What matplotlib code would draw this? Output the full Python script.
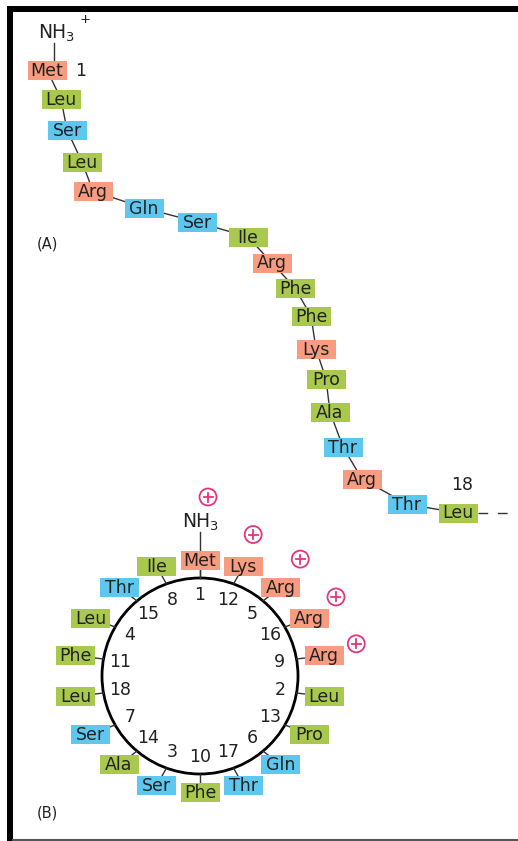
import numpy as np
import matplotlib.pyplot as plt
from matplotlib.patches import Rectangle, Circle

# residues of the signal sequence (N -> C)
residues = ['Met', 'Leu', 'Ser', 'Leu', 'Arg', 'Gln', 'Ser', 'Ile', 'Arg',
            'Phe', 'Phe', 'Lys', 'Pro', 'Ala', 'Thr', 'Arg', 'Thr', 'Leu']
# c = charged/basic, h = hydrophobic, p = polar
res_class = ['c', 'h', 'p', 'h', 'c', 'p', 'p', 'h', 'c',
             'h', 'h', 'c', 'h', 'h', 'p', 'c', 'p', 'h']
# residue numbers that carry a positive charge (1 = N-terminal NH3+)
charged_pos = [1, 5, 9, 12, 16]

colors = {'c': '#f89b80', 'h': '#a9c94e', 'p': '#5ec7ee'}
txt_col = '#222222'
plus_col = '#e2357e'

# layout of the extended chain in panel A (pixel coords)
chain_x = [47, 61, 67, 82, 93, 144, 197, 248, 272, 295, 311, 316, 326, 330, 343, 362, 407, 458]
chain_y = [70, 99, 130, 162, 191, 208, 222, 237, 263, 288, 316, 349, 379, 412, 447, 479, 504, 513]

W, H = 5.18, 8.41
fig = plt.figure(figsize=(W, H), dpi=100)
ax = fig.add_axes([0, 0, 1, 1])
ax.set_xlim(0, 518)
ax.set_ylim(841, 0)
ax.axis('off')

bw, bh = 39, 19
fs = 12.5


def box(x, y, name, cls):
    ax.add_patch(Rectangle((x - bw / 2, y - bh / 2), bw, bh, facecolor=colors[cls],
                           edgecolor='none', zorder=3))
    ax.text(x, y + 0.5, name, ha='center', va='center', fontsize=fs, color=txt_col, zorder=4)


def plus(x, y):
    ax.add_patch(Circle((x, y), 8.5, facecolor='white', edgecolor=plus_col, lw=1.3, zorder=5))
    ax.plot([x - 4.5, x + 4.5], [y, y], color=plus_col, lw=1.3, zorder=6)
    ax.plot([x, x], [y - 4.5, y + 4.5], color=plus_col, lw=1.3, zorder=6)


# frame
ax.add_patch(Rectangle((7, 6), 6, 841, facecolor='black', edgecolor='none'))
ax.add_patch(Rectangle((7, 6), 520, 6, facecolor='black', edgecolor='none'))
ax.plot([13, 518], [839.5, 839.5], color='#555555', lw=1.5)

# ---- panel A : extended chain ----
ax.plot(chain_x, chain_y, color='#333333', lw=1.0, zorder=2)
for x, y, r, c in zip(chain_x, chain_y, residues, res_class):
    box(x, y, r, c)
ax.plot([54, 54], [43, 60], color='#333333', lw=1.0, zorder=2)
ax.text(38, 33, r'NH$_3$', ha='left', va='center', fontsize=13.5, color=txt_col)
ax.text(85, 19, '+', ha='center', va='center', fontsize=9.5, color=txt_col)
ax.text(75, 71, '1', ha='left', va='center', fontsize=fs, color=txt_col)
ax.text(462, 485, '18', ha='center', va='center', fontsize=fs, color=txt_col)
ax.plot([chain_x[-1] + bw / 2, 514], [chain_y[-1], chain_y[-1]], color='#333333', lw=1.0,
        ls=(0, (7, 7)), zorder=2)
ax.text(47, 244, '(A)', ha='center', va='center', fontsize=10.5, color=txt_col)

# ---- panel B : helical wheel (100 deg per residue) ----
cx, cy, R = 200, 676, 98
ea, eb = 126, 116      # box centres sit on an ellipse round the wheel
pa, pb = 160, 150      # charge markers further out
ax.add_patch(Circle((cx, cy), R, facecolor='none', edgecolor='black', lw=2.0, zorder=2))
for i, (r, c) in enumerate(zip(residues, res_class)):
    n = i + 1
    th = np.deg2rad((n - 1) * 100 % 360)
    bx, by = cx + ea * np.sin(th), cy - eb * np.cos(th)
    ux, uy = np.sin(th), -np.cos(th)
    # spoke from rim toward the box
    ax.plot([cx + R * ux, bx], [cy + R * uy, by], color='#333333', lw=1.0, zorder=2)
    box(bx, by, r, c)
    ax.text(cx + 81 * ux, cy + 81 * uy, str(n), ha='center', va='center', fontsize=fs,
            color=txt_col, zorder=4)
    if n in charged_pos and n != 1:
        tp = th * 0.97
        plus(cx + pa * np.sin(tp), cy - pb * np.cos(tp))

# N-terminus on the wheel
ax.plot([cx, cx], [cy - R, 532], color='#333333', lw=1.0, zorder=2)
ax.text(cx, 522, r'NH$_3$', ha='center', va='center', fontsize=13.5, color=txt_col)
plus(208, 497)
ax.text(47, 813, '(B)', ha='center', va='center', fontsize=10.5, color=txt_col)

fig.savefig('out.png', dpi=100)
